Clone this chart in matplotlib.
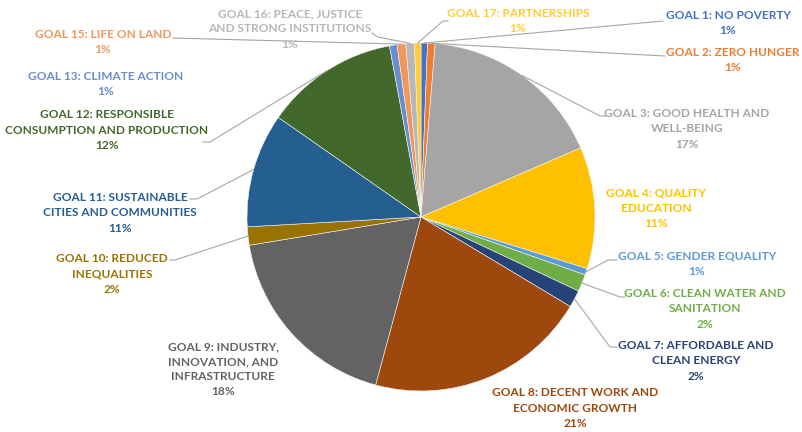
import matplotlib.pyplot as plt
import numpy as np

W, H = 802, 432

goals = [
    "GOAL 1: NO POVERTY",
    "GOAL 2: ZERO HUNGER",
    "GOAL 3: GOOD HEALTH AND\nWELL-BEING",
    "GOAL 4: QUALITY\nEDUCATION",
    "GOAL 5: GENDER EQUALITY",
    "GOAL 6: CLEAN WATER AND\nSANITATION",
    "GOAL 7: AFFORDABLE AND\nCLEAN ENERGY",
    "GOAL 8: DECENT WORK AND\nECONOMIC GROWTH",
    "GOAL 9: INDUSTRY,\nINNOVATION, AND\nINFRASTRUCTURE",
    "GOAL 10: REDUCED\nINEQUALITIES",
    "GOAL 11: SUSTAINABLE\nCITIES AND COMMUNITIES",
    "GOAL 12: RESPONSIBLE\nCONSUMPTION AND PRODUCTION",
    "GOAL 13: CLIMATE ACTION",
    "GOAL 15: LIFE ON LAND",
    "GOAL 16: PEACE, JUSTICE\nAND STRONG INSTITUTIONS",
    "GOAL 17: PARTNERSHIPS",
]
shares = [0.6, 0.7, 17.2, 11.3, 0.6, 1.6, 1.6, 20.6, 18.2, 1.7,
          10.6, 12.4, 0.7, 0.8, 0.8, 0.6]
colors = ["#4472C4", "#ED7D31", "#A5A5A5", "#FFC000", "#5B9BD5", "#70AD47",
          "#264478", "#9E480E", "#636363", "#997300", "#255E91", "#43682B",
          "#698ED0", "#F1975A", "#B7B7B7", "#FFCD33"]

# label block centres and leader paths, in pixels from the top-left corner
label_xy = [(728, 23), (733, 60), (687, 129), (656, 208), (697, 264),
            (705, 309), (696, 361), (575, 408), (223, 369), (112, 274),
            (120, 213), (107, 130), (106, 84), (103, 42), (290, 29), (518, 21)]
leaders = {
    0: [(663, 21)],
    1: [(665, 56)],
    2: [(600, 116), (606, 116)],
    4: [(608, 260), (617, 260)],
    5: [(620, 297), (625, 297)],
    6: [(610, 347), (617, 347)],
    9: [(175, 260), (170, 260)],
    10: [(197, 199), (190, 199)],
    11: [(210, 142), (203, 142)],
    13: [(173, 38)],
    14: [(378, 37), (372, 33)],
    15: [(443, 21), (448, 21)],
}

cx, cy, r = 421, H - 217, 174

fig = plt.figure(figsize=(W / 100, H / 100), dpi=100)
ax = fig.add_axes([0, 0, 1, 1])
wedges, _ = ax.pie(shares, colors=colors, startangle=90, counterclock=False,
                   center=(cx, cy), radius=r, frame=True,
                   wedgeprops=dict(linewidth=0.4, edgecolor="#f4f4f4"))
ax.set_xlim(0, W)
ax.set_ylim(0, H)
ax.set_aspect("equal")
ax.axis("off")

for i, (w, name, val, col) in enumerate(zip(wedges, goals, shares, colors)):
    lx, ly = label_xy[i]
    ax.text(lx, H - ly, f"{name}\n{round(val)}%", color=col, ha="center",
            va="center", fontsize=8.6, fontweight="bold", family="Lato",
            linespacing=1.45)
    if i in leaders:
        mid = np.deg2rad((w.theta1 + w.theta2) / 2)
        pts = [(cx + r * np.cos(mid), cy + r * np.sin(mid))]
        pts += [(x, H - y) for x, y in leaders[i]]
        xs, ys = zip(*pts)
        ax.plot(xs, ys, color="#A6A6A6", linewidth=0.8)

fig.savefig("out.png", dpi=100)
